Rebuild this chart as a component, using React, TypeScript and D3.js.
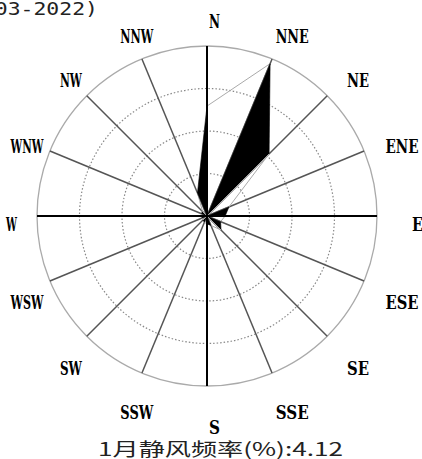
import React from 'react';
import * as d3 from 'd3';

const directions = ['N', 'NNE', 'NE', 'ENE', 'E', 'ESE', 'SE', 'SSE', 'S', 'SSW', 'SW', 'WSW', 'W', 'WNW', 'NW', 'NNW'];
const frequencies = [19.4, 29.1, 15.5, 4.2, 3.2, 2.6, 3.5, 1.8, 1.4, 1.2, 1.0, 0.9, 1.0, 1.1, 1.1, 4.4];
const ringValues = [7.5, 15, 22.5];
const maxValue = 30;
const titleText = '(2003-2022)';
const calmText = '1月静风频率(%):4.12';

export default function App() {
  const W = 422, H = 459;
  const cx = 207, cy = 216;
  const R = 170;
  const r = d3.scaleLinear().domain([0, maxValue]).range([0, R]);
  const step = (2 * Math.PI) / directions.length;
  const pts = frequencies.map((v, i) => d3.pointRadial(i * step, r(v)));
  const labelCx = cx + 7.5, labelCy = cy + 8.5, labelR = 203;

  return (
    <svg width={W} height={H} style={{ position: 'absolute', left: 0, top: 0, background: '#fff' }}>
      <rect x={0} y={0} width={W} height={H} fill="#fff" />
      <text x={98 - 142} y={15} fontFamily="'DejaVu Sans Mono', monospace" fontSize={17} textLength={142} lengthAdjust="spacingAndGlyphs" fill="#222">{titleText}</text>
      <g transform={`translate(${cx},${cy})`}>
        {ringValues.map((v) => (
          <circle key={v} r={r(v)} fill="none" stroke="#888" strokeWidth={1.2} strokeDasharray="1.5,2" />
        ))}
        <circle r={r(maxValue)} fill="none" stroke="#aaa" strokeWidth={1.3} />
        {directions.map((d, i) => {
          if (i % 4 === 0) return null;
          const [x, y] = d3.pointRadial(i * step, r(maxValue));
          return <line key={d} x1={0} y1={0} x2={x} y2={y} stroke="#555" strokeWidth={1.5} />;
        })}
        {pts.map((p, i) => {
          const q = pts[(i + 1) % pts.length];
          const path = d3.path();
          path.moveTo(0, 0);
          path.lineTo(p[0], p[1]);
          path.lineTo(q[0], q[1]);
          path.closePath();
          const black = i % 2 === 1;
          return (
            <path key={i} d={path.toString()} fill={black ? '#000' : 'none'} stroke={black ? '#000' : '#aaa'} strokeWidth={black ? 0.6 : 1} />
          );
        })}
        {directions.map((d, i) => {
          if (i % 4 !== 0) return null;
          const [x, y] = d3.pointRadial(i * step, r(maxValue));
          return <line key={d} x1={0} y1={0} x2={x} y2={y} stroke="#000" strokeWidth={2} />;
        })}
      </g>
      {directions.map((d, i) => {
        const [x, y] = d3.pointRadial(i * step, labelR);
        return (
          <text key={d} x={labelCx + x} y={labelCy + y} textAnchor="middle" dominantBaseline="central"
            fontFamily="'DejaVu Serif', 'Liberation Serif', serif" fontWeight="bold" fontSize={18}
            textLength={d.length * 11} lengthAdjust="spacingAndGlyphs" fill="#000">{d}</text>
        );
      })}
      <text x={98} y={456} fontFamily="'Noto Sans CJK SC', sans-serif" fontSize={18} textLength={245} lengthAdjust="spacingAndGlyphs" fill="#222">{calmText}</text>
    </svg>
  );
}
